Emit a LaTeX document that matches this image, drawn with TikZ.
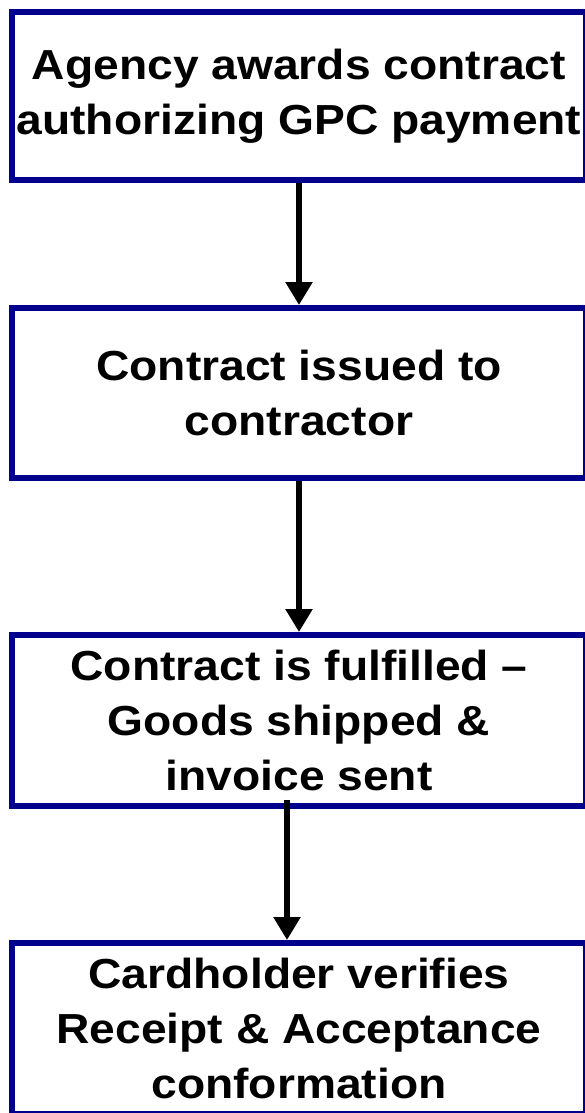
\documentclass[tikz,border=0pt]{standalone}
\usepackage{fontspec}
\newfontfamily\bx{Liberation Sans}[FakeStretch=1.1,BoldFeatures={FakeStretch=1.1}]
\usetikzlibrary{arrows.meta}
\definecolor{boxnavy}{RGB}{0,0,140}
\begin{document}
\begin{tikzpicture}[x=1pt,y=-1pt,
  flowbox/.style={draw=boxnavy,line width=6pt,fill=white,rectangle,minimum width=574pt,
    inner sep=0pt,align=center,font=\bx\bfseries\fontsize{42}{55}\selectfont},
  flowarrow/.style={line width=5.5pt,-{Triangle[width=26pt,length=23pt]}}]
\useasboundingbox (0,0) rectangle (585,1113);
\node[flowbox,minimum height=167.5pt] (b1) at (299,96.25) {Agency awards contract\\authorizing GPC payment};
\node[flowbox,minimum height=170pt] (b2) at (299,393) {Contract issued to\\contractor};
\node[flowbox,minimum height=170.5pt] (b3) at (299,720.25) {Contract is fulfilled –\\Goods shipped \&\\invoice sent};
\node[flowbox,minimum height=171pt] (b4) at (299,1028.5) {Cardholder verifies\\Receipt \& Acceptance\\conformation};
\coordinate (a3s) at ([xshift=-12pt,yshift=9pt]b3.south);
\draw[flowarrow] (b1.south) -- (b2.north);
\draw[flowarrow] (b2.south) -- (b3.north);
\draw[flowarrow] (a3s) -- (a3s |- b4.north);
\end{tikzpicture}
\end{document}
